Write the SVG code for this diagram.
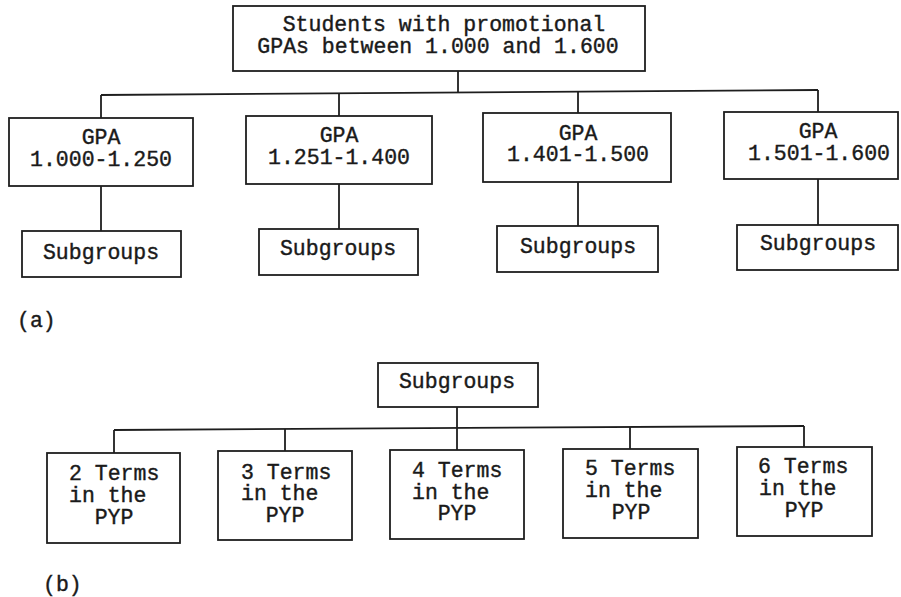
<svg xmlns="http://www.w3.org/2000/svg" width="901" height="597" viewBox="0 0 901 597">
<style>
.box{fill:#fff;stroke:#1e1e1e;stroke-width:1.8}
.ln{fill:none;stroke:#1e1e1e;stroke-width:1.8}
text{font-family:"Liberation Mono","Courier New",monospace;font-size:21.5px;fill:#1a1a1a;stroke:#1a1a1a;stroke-width:0.4}
.c{text-anchor:middle}
</style>
<rect width="901" height="597" fill="#fff"/>
<g id="connectors">
<line class="ln" x1="458" y1="71" x2="458" y2="92.5"/>
<line class="ln" x1="101" y1="95" x2="818" y2="90"/>
<line class="ln" x1="101" y1="95" x2="101" y2="118"/>
<line class="ln" x1="339" y1="93.3" x2="339" y2="116"/>
<line class="ln" x1="578" y1="91.7" x2="578" y2="113"/>
<line class="ln" x1="818" y1="90" x2="818" y2="112"/>
<line class="ln" x1="101" y1="186" x2="101" y2="231"/>
<line class="ln" x1="339" y1="184" x2="339" y2="229"/>
<line class="ln" x1="578" y1="182" x2="578" y2="226"/>
<line class="ln" x1="818" y1="179" x2="818" y2="225"/>
<line class="ln" x1="457" y1="407" x2="457" y2="428"/>
<line class="ln" x1="114" y1="430" x2="804" y2="426"/>
<line class="ln" x1="114" y1="430" x2="114" y2="453"/>
<line class="ln" x1="285" y1="429" x2="285" y2="451"/>
<line class="ln" x1="457" y1="428" x2="457" y2="450"/>
<line class="ln" x1="630" y1="427" x2="630" y2="449"/>
<line class="ln" x1="804" y1="426" x2="804" y2="447"/>
</g>
<g id="root">
<rect class="box" x="233" y="6" width="412" height="65"/>
<text class="c" x="444" y="31">Students with promotional</text>
<text class="c" x="438" y="53">GPAs between 1.000 and 1.600</text>
</g>
<g id="gpa1">
<rect class="box" x="9" y="118" width="184" height="68"/>
<text class="c" x="101" y="144">GPA</text>
<text class="c" x="101" y="166">1.000-1.250</text>
</g>
<g id="gpa2">
<rect class="box" x="246" y="116" width="186" height="68"/>
<text class="c" x="339" y="142">GPA</text>
<text class="c" x="339" y="164">1.251-1.400</text>
</g>
<g id="gpa3">
<rect class="box" x="483" y="113" width="188" height="69"/>
<text class="c" x="578" y="140">GPA</text>
<text class="c" x="578" y="161">1.401-1.500</text>
</g>
<g id="gpa4">
<rect class="box" x="724" y="112" width="174" height="67"/>
<text class="c" x="818" y="138">GPA</text>
<text class="c" x="819" y="160">1.501-1.600</text>
</g>
<g id="sub1">
<rect class="box" x="22" y="231" width="159" height="46"/>
<text class="c" x="101" y="259">Subgroups</text>
</g>
<g id="sub2">
<rect class="box" x="259" y="229" width="159" height="46"/>
<text class="c" x="338" y="255">Subgroups</text>
</g>
<g id="sub3">
<rect class="box" x="497" y="226" width="161" height="46"/>
<text class="c" x="578" y="253">Subgroups</text>
</g>
<g id="sub4">
<rect class="box" x="737" y="225" width="161" height="45"/>
<text class="c" x="818" y="250">Subgroups</text>
</g>
<text x="17" y="327">(a)</text>
<g id="subgroups">
<rect class="box" x="378" y="363" width="160" height="44"/>
<text class="c" x="457" y="388">Subgroups</text>
</g>
<g id="t2">
<rect class="box" x="47" y="453" width="133" height="90"/>
<text x="69" y="480">2 Terms</text>
<text x="69" y="502">in the</text>
<text class="c" x="114" y="524">PYP</text>
</g>
<g id="t3">
<rect class="box" x="218" y="451" width="134" height="89"/>
<text x="241" y="479">3 Terms</text>
<text x="241" y="500">in the</text>
<text class="c" x="285" y="522">PYP</text>
</g>
<g id="t4">
<rect class="box" x="390" y="450" width="134" height="89"/>
<text x="412" y="477">4 Terms</text>
<text x="412" y="499">in the</text>
<text class="c" x="457" y="520">PYP</text>
</g>
<g id="t5">
<rect class="box" x="563" y="449" width="135" height="89"/>
<text x="585" y="475">5 Terms</text>
<text x="585" y="497">in the</text>
<text class="c" x="631" y="519">PYP</text>
</g>
<g id="t6">
<rect class="box" x="737" y="447" width="135" height="89"/>
<text x="758" y="473">6 Terms</text>
<text x="759" y="495">in the</text>
<text class="c" x="804" y="517">PYP</text>
</g>
<text x="43" y="591">(b)</text>
</svg>
